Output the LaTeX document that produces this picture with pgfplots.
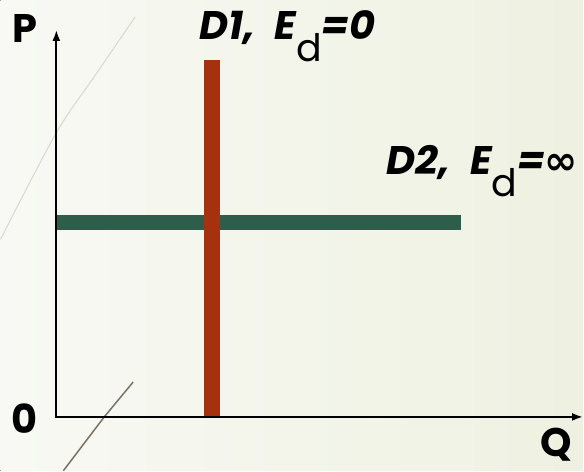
\documentclass[border=0pt]{standalone}
\usepackage{fontspec}
\setmainfont{Poppins}
\newfontfamily\dejavu{DejaVu Sans}
\usepackage{pgfplots}
\pgfplotsset{compat=1.18}
\usetikzlibrary{arrows.meta}
\definecolor{bgA}{HTML}{F8F9F4}
\definecolor{bgB}{HTML}{EEF1E1}
\definecolor{rust}{HTML}{A5310F}
\definecolor{dgreen}{HTML}{2F5D4B}
\definecolor{deco1}{HTML}{D8D8CC}
\definecolor{deco2}{HTML}{7A7262}
\newcommand{\lab}[2]{{\fontsize{40}{46}\selectfont\bfseries\itshape #1,\hspace{0.5em}E\raisebox{-22pt}{\fontsize{38}{44}\selectfont\normalfont d}#2}}
\begin{document}
\begin{tikzpicture}
\begin{axis}[
  width=584pt, height=472pt, scale only axis,
  xmin=0, xmax=584, ymin=0, ymax=472,
  axis lines=none, clip=false,
]
\fill[left color=bgA, right color=bgB] (axis cs:0,0) rectangle (axis cs:584,472);
% decorative lines
\addplot[deco1, line width=1pt, smooth] coordinates {(135,455) (96,398) (56,339) (0,232)};
\addplot[deco2, line width=1.5pt] coordinates {(133,89) (104,54) (63,0)};
% curves
\addplot[dgreen, line width=15pt, line cap=butt] coordinates {(56,248.5) (462,248.5)};
\addplot[rust, line width=16pt, line cap=butt] coordinates {(212,54) (212,412)};
% axes
\addplot[black, line width=2pt, -{Latex[length=11pt,width=8pt]}] coordinates {(56,54) (56,442)};
\addplot[black, line width=2pt, -{Latex[length=11pt,width=8pt]}] coordinates {(55,54) (584,54)};
% labels
\node[anchor=base west, inner sep=0pt] at (axis cs:12,429) {\fontsize{40}{44}\selectfont\bfseries P};
\node[anchor=base west, inner sep=0pt] at (axis cs:11,37) {\fontsize{40}{44}\selectfont\bfseries 0};
\node[anchor=base west, inner sep=0pt] at (axis cs:541,14) {\fontsize{40}{44}\selectfont\bfseries Q};
\node[anchor=base west, inner sep=0pt] at (axis cs:199,432) {\lab{D1}{=0}};
\node[anchor=base west, inner sep=0pt] at (axis cs:387,297) {\lab{D2}{={\dejavu\bfseries ∞}}};
\end{axis}
\end{tikzpicture}
\end{document}
